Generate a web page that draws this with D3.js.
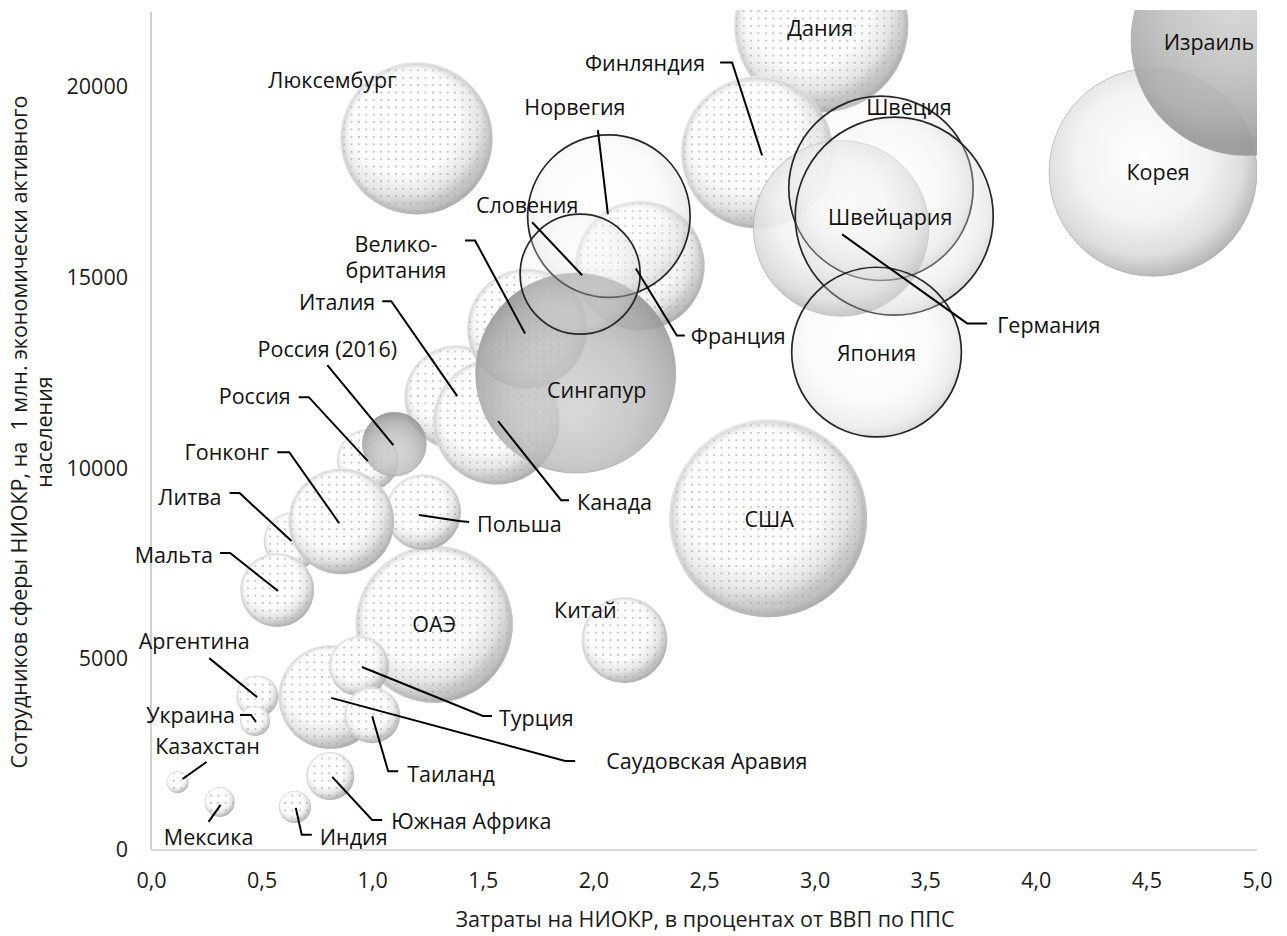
<!DOCTYPE html>
<html>
<head>
<meta charset="utf-8">
<script src="https://cdn.jsdelivr.net/npm/d3@7"></script>
<style>
  html, body { margin: 0; padding: 0; background: #ffffff; }
  svg { display: block; font-family: "Open Sans", "Noto Sans", sans-serif; }
</style>
</head>
<body>
<svg id="chart" width="1287" height="936"></svg>
<script>
// ---- data (drawing order: back to front) ----
const countries = [
  "Дания", "Люксембург", "Финляндия", "США", "ОАЭ", "Китай", "Франция",
  "Италия", "Канада", "Великобритания", "Польша", "Россия", "Литва",
  "Гонконг", "Мальта", "Саудовская Аравия", "Турция", "Таиланд",
  "Аргентина", "Украина", "Казахстан", "Мексика", "Индия", "Южная Африка",
  "Германия", "Корея", "Израиль", "Сингапур", "Россия (2016)",
  "Норвегия", "Словения", "Швеция", "Швейцария", "Япония"
];
// R&D expenditure, % of GDP (PPP)
const rdSpending = [
  3.03, 1.20, 2.74, 2.79, 1.28, 2.14, 2.21,
  1.38, 1.56, 1.70, 1.23, 0.98, 0.64,
  0.86, 0.57, 0.81, 0.94, 1.00,
  0.48, 0.47, 0.12, 0.31, 0.65, 0.81,
  3.12, 4.53, 4.95, 1.92, 1.10,
  2.07, 1.94, 3.30, 3.36, 3.28
];
// R&D personnel per 1 mln economically active population
const researchers = [
  21600, 18640, 18270, 8690, 5920, 5500, 15310,
  11860, 11230, 13660, 8850, 10210, 8090,
  8610, 6810, 4010, 4820, 3530,
  4030, 3380, 1780, 1260, 1130, 1940,
  16280, 17750, 21200, 12490, 10630,
  16600, 15080, 17330, 16600, 13040
];
// bubble size measure
const bubbleSize = [
  76, 58, 58, 98, 62, 18.5, 42,
  27, 40, 36, 14.4, 9.6, 8.4,
  28, 13.7, 27, 9, 7.8,
  4.4, 2.25, 1.2, 2.25, 2.6, 5.8,
  77, 108, 132, 100, 10.2,
  66, 36, 85, 98, 72
];
const xTicks = [0, 0.5, 1, 1.5, 2, 2.5, 3, 3.5, 4, 4.5, 5];
const yTicks = [0, 5000, 10000, 15000, 20000];
const xTitle = "Затраты на НИОКР, в процентах от ВВП по ППС";
const yTitleLines = ["Сотрудников сферы НИОКР, на\u00a0 1 млн. экономически активного", "населения"];

// ---- appearance ----
const FONT = 21.5;
const bubbleStyle = {
  "Германия": "light", "Корея": "light",
  "Израиль": "dark",
  "Сингапур": "glass", "Россия (2016)": "glass",
  "Норвегия": "ring", "Словения": "ring", "Швеция": "ring",
  "Швейцария": "ring", "Япония": "ring"
};

// label offsets from bubble centre (px), text anchor, leader-line elbows
const labelLayout = {
  "Люксембург": { at: [-84, -58] },
  "Дания": { at: [-1, 3] },
  "Финляндия": { at: [-52, -89], anchor: "end", leader: [[5, 3], [-25, -90], [-37, -90]] },
  "Израиль": { at: [-37, 2] },
  "Корея": { at: [5, 0] },
  "Швеция": { at: [28, -81] },
  "Швейцария": { at: [-4, 1] },
  "Германия": { at: [156, 97], anchor: "start", leader: [[1, 6], [126, 95], [146, 95]] },
  "Япония": { at: [0, 1] },
  "Норвегия": { at: [-34, -109], leader: [[-1, -2], [-11, -86]] },
  "Словения": { at: [-53, -69], leader: [[2, 1], [-48, -52]] },
  "Франция": { at: [51, 71], anchor: "start", leader: [[-4, 3], [37, 70], [45, 70]] },
  "Великобритания": { at: [-131, -84], lines: ["Велико-", "британия"], leader: [[-2, 5], [-52, -88], [-62, -88]] },
  "Сингапур": { at: [21, 17] },
  "Италия": { at: [-81, -95], anchor: "end", leader: [[1, -1], [-65, -96], [-74, -96]] },
  "Канада": { at: [81, 81], anchor: "start", leader: [[2, 0], [65, 79], [73, 79]] },
  "Россия (2016)": { at: [-67, -95], leader: [[-1, 1], [-67, -79]] },
  "Россия": { at: [-77, -64], anchor: "end", leader: [[0, 1], [-59, -63], [-69, -63]] },
  "Гонконг": { at: [-72, -69], anchor: "end", leader: [[-2, 2], [-52, -69], [-64, -69]] },
  "Польша": { at: [54, 12], anchor: "start", leader: [[-4, 3], [36, 9], [46, 10]] },
  "Литва": { at: [-71, -44], anchor: "end", leader: [[-1, 0], [-53, -48], [-63, -48]] },
  "Мальта": { at: [-64, -35], anchor: "end", leader: [[1, 1], [-47, -37], [-57, -37]] },
  "ОАЭ": { at: [0, 1] },
  "Китай": { at: [-39, -30] },
  "США": { at: [1, 1] },
  "Аргентина": { at: [-63, -55], leader: [[0, 1], [-48, -38]] },
  "Украина": { at: [-20, -5], anchor: "end", leader: [[1, 1], [-4, -6], [-15, -6]] },
  "Казахстан": { at: [30, -36], leader: [[5, -3], [29, -20]] },
  "Мексика": { at: [-11, 36], leader: [[1, 3], [-11, 20]] },
  "Индия": { at: [25, 31], anchor: "start", leader: [[1, 1], [7, 28], [17, 28]] },
  "Южная Африка": { at: [61, 46], anchor: "start", leader: [[2, 1], [42, 44], [52, 44]] },
  "Саудовская Аравия": { at: [276, 65], anchor: "start", leader: [[1, 1], [235, 64], [245, 64]] },
  "Турция": { at: [140, 53], anchor: "start", leader: [[3, 1], [124, 50], [133, 50]] },
  "Таиланд": { at: [35, 59], anchor: "start", leader: [[0, 1], [16, 56], [26, 56]] }
};

// ---- layout ----
const plot = { left: 151, right: 1257, top: 10, bottom: 850 };
const svg = d3.select("#chart");
const x = d3.scaleLinear().domain([0, 5]).range([plot.left, plot.right]);
const y = d3.scaleLinear().domain([0, 22000]).range([plot.bottom, plot.top]);
const r = d3.scaleSqrt().domain([0, 100]).range([0, 100]);
const fmtX = d => d3.format(".1f")(d).replace(".", ",");

const defs = svg.append("defs");
defs.append("clipPath").attr("id", "plotClip")
  .append("rect")
  .attr("x", plot.left).attr("y", plot.top)
  .attr("width", plot.right - plot.left).attr("height", plot.bottom - plot.top);

const dots = defs.append("pattern").attr("id", "dots")
  .attr("patternUnits", "userSpaceOnUse").attr("width", 7.4).attr("height", 7.4);
dots.append("circle").attr("cx", 3.7).attr("cy", 3.7).attr("r", 0.9).attr("fill", "#9a9a9a");

function radial(id, stops, cx, cy, rad, fx, fy) {
  const g = defs.append("radialGradient").attr("id", id)
    .attr("cx", cx).attr("cy", cy).attr("r", rad).attr("fx", fx).attr("fy", fy);
  stops.forEach(([o, c, a]) => g.append("stop").attr("offset", o).attr("stop-color", c).attr("stop-opacity", a));
}
// matte spheres: light from upper left, shadow toward the lower right rim
radial("g-matte", [[0, "#ffffff", 1], [0.48, "#fdfdfd", 1], [0.68, "#e5e5e5", 1], [0.84, "#b6b6b6", 1], [0.96, "#868686", 1], [1, "#9a9a9a", 1]],
  0.42, 0.38, 0.72, 0.42, 0.38);
radial("g-rim", [[0, "#ffffff", 0], [0.86, "#ffffff", 0], [0.97, "#b5b5b5", 0.45], [1, "#d0d0d0", 0.3]], 0.5, 0.5, 0.5, 0.5, 0.5);
radial("g-light", [[0, "#fefefe", 0.92], [0.5, "#f2f2f2", 0.9], [0.78, "#d9d9d9", 0.9], [0.95, "#b0b0b0", 0.92], [1, "#c4c4c4", 0.92]],
  0.45, 0.42, 0.62, 0.45, 0.42);
radial("g-dark", [[0, "#d4d4d4", 0.85], [0.5, "#bdbdbd", 0.85], [0.85, "#a6a6a6", 0.88], [1, "#979797", 0.9]],
  0.45, 0.35, 0.6, 0.45, 0.3);
radial("g-glass", [[0, "#d0d0d0", 0.8], [0.5, "#bcbcbc", 0.8], [0.8, "#a5a5a5", 0.84], [0.95, "#8f8f8f", 0.88], [1, "#a6a6a6", 0.88]],
  0.5, 0.6, 0.62, 0.5, 0.68);
radial("g-ring", [[0, "#ffffff", 0.2], [0.6, "#eeeeee", 0.28], [0.85, "#cfcfcf", 0.38], [1, "#a0a0a0", 0.5]],
  0.45, 0.42, 0.62, 0.45, 0.42);

// ---- axes ----
svg.append("line")
  .attr("x1", plot.left).attr("x2", plot.left).attr("y1", plot.top + 2).attr("y2", plot.bottom)
  .attr("stroke", "#bfbfbf").attr("stroke-width", 1.5);
svg.append("line")
  .attr("x1", plot.left).attr("x2", plot.right).attr("y1", plot.bottom).attr("y2", plot.bottom)
  .attr("stroke", "#d9d9d9").attr("stroke-width", 2);

const xAxis = svg.append("g").attr("transform", `translate(0,${plot.bottom})`)
  .call(d3.axisBottom(x).tickValues(xTicks).tickFormat(fmtX).tickSize(0).tickPadding(23));
const yAxis = svg.append("g").attr("transform", `translate(${plot.left},0)`)
  .call(d3.axisLeft(y).tickValues(yTicks).tickFormat(d3.format("d")).tickSize(0).tickPadding(23));
[xAxis, yAxis].forEach(a => {
  a.select(".domain").remove();
  a.selectAll("text").attr("font-size", FONT).attr("fill", "#1a1a1a")
    .attr("font-family", '"Open Sans", "Noto Sans", sans-serif');
});

svg.append("text")
  .attr("x", 705).attr("y", 927).attr("text-anchor", "middle")
  .attr("font-size", FONT).attr("fill", "#1a1a1a").text(xTitle);
const yt = svg.append("text")
  .attr("transform", "translate(27,432) rotate(-90)")
  .attr("text-anchor", "middle").attr("font-size", FONT).attr("fill", "#1a1a1a");
yTitleLines.forEach((t, i) => yt.append("tspan").attr("x", 0).attr("dy", i === 0 ? 0 : 25).text(t));

// ---- bubbles ----
const data = countries.map((c, i) => ({
  name: c, xv: rdSpending[i], yv: researchers[i], sv: bubbleSize[i],
  style: bubbleStyle[c] || "matte"
}));

const bub = svg.append("g").attr("clip-path", "url(#plotClip)");
data.forEach(d => {
  const cx = x(d.xv), cy = y(d.yv), rr = r(d.sv);
  bub.append("circle").attr("cx", cx).attr("cy", cy).attr("r", rr)
    .attr("fill", `url(#g-${d.style})`)
    .attr("stroke", d.style === "ring" ? "#262626" : (d.style === "matte" ? "none" : "#a0a0a0"))
    .attr("stroke-width", d.style === "ring" ? 1.7 : 0.6);
  if (d.style === "matte") {
    bub.append("circle").attr("cx", cx).attr("cy", cy).attr("r", rr - 1.5)
      .attr("fill", "url(#dots)").attr("opacity", 0.8);
    bub.append("circle").attr("cx", cx).attr("cy", cy).attr("r", rr)
      .attr("fill", "url(#g-rim)");
  }
});

// ---- labels and leader lines ----
const lab = svg.append("g");
data.forEach(d => {
  const L = labelLayout[d.name];
  if (!L) return;
  const cx = x(d.xv), cy = y(d.yv);
  if (L.leader) {
    lab.append("path")
      .attr("d", d3.line()(L.leader.map(([dx, dy]) => [cx + dx, cy + dy])))
      .attr("fill", "none").attr("stroke", "#000").attr("stroke-width", 2)
      .attr("stroke-linejoin", "miter");
  }
  const lines = L.lines || [d.name];
  const t = lab.append("text")
    .attr("text-anchor", L.anchor || "middle").attr("font-size", FONT).attr("fill", "#111");
  lines.forEach((s, i) => t.append("tspan")
    .attr("x", cx + L.at[0])
    .attr("y", cy + L.at[1] + i * 26)
    .attr("dy", "0.35em").text(s));
});
</script>
</body>
</html>
